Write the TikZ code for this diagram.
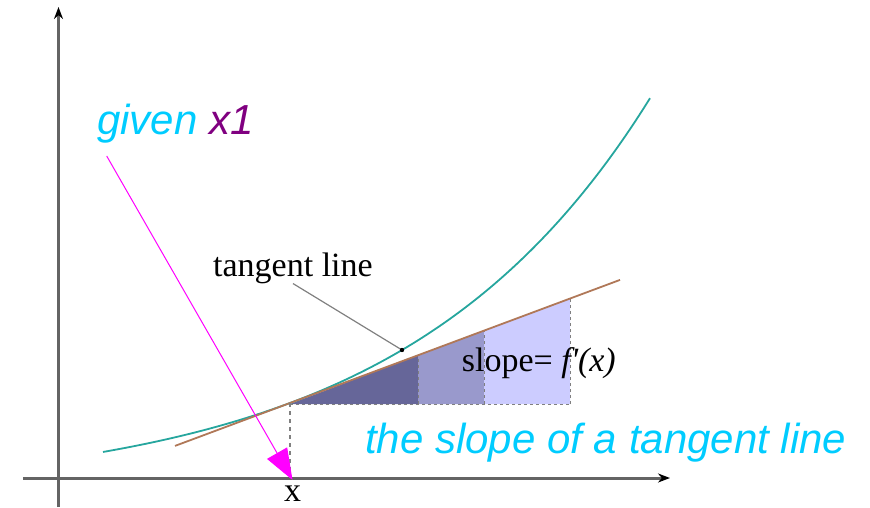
\documentclass[tikz,border=0pt]{standalone}
\usepackage{fontspec}
\setmainfont{Liberation Sans}
\newfontfamily\timesfont{Liberation Serif}
\usetikzlibrary{arrows.meta}

\definecolor{curveteal}{RGB}{38,166,158}
\definecolor{tanbrown}{RGB}{176,120,88}
\definecolor{givencyan}{RGB}{0,204,255}
\definecolor{xpurple}{RGB}{128,0,128}
\definecolor{arrowpink}{RGB}{255,0,255}
\definecolor{darkslope}{RGB}{102,102,153}
\definecolor{midslope}{RGB}{153,153,204}
\definecolor{lightslope}{RGB}{204,204,255}
\definecolor{axisgray}{RGB}{100,100,100}

\begin{document}
\begin{tikzpicture}[x=1pt, y=1pt,
	bigtext/.style={font=\fontsize{42}{48}\selectfont\itshape, text=givencyan, anchor=base west, inner sep=0pt},
	seriftext/.style={font=\fontsize{34}{38}\selectfont\timesfont, anchor=base west, inner sep=0pt},
	edge/.style={draw=gray, dash pattern=on 3pt off 3pt, line width=1pt}]
	\useasboundingbox (-58.5, -29) rectangle (811.5, 478);
	% \coordinate () at ();
	\coordinate (T) at (231.5, 75);
	\coordinate (touch) at (343.5, 128);
	\coordinate (xpoint) at (234, -2);
	\coordinate (arrowstart) at (48.2, 322);

	\fill[darkslope] (231.5, 74) -- (359.5, 122.7) -- (359.5, 74) -- cycle;
	\fill[midslope] (359.5, 74) -- (359.5, 122.7) -- (425.5, 147.4) -- (425.5, 74) -- cycle;
	\fill[lightslope] (425.5, 74) -- (425.5, 147.4) -- (511.5, 179.4) -- (511.5, 74) -- cycle;
	\draw[edge] (231.5, 74) -- (511.5, 74);
	\foreach \side/\top in {359.5/122.7, 425.5/147.4, 511.5/179.4} {
		\draw[edge] (\side, 74) -- (\side, \top);
	}

	\draw[axisgray, line width=3pt, -{Stealth[length=12pt, width=9pt, black]}] (-35.5, 0) -- (611.5, 0);
	\draw[axisgray, line width=2.5pt, -{Stealth[length=12pt, width=9pt, black]}] (0, -29) -- (0, 471);

	\draw[curveteal, line width=1.8pt] plot[domain=44.5:591.5, samples=90, smooth] (\x, {-17.06 + 92.06*exp(0.00406*(\x - 231.5))});
	\draw[tanbrown, line width=1.8pt] (116.5, 32.1) -- (561.5, 198.1);
	\draw[gray, line width=2.2pt, dash pattern=on 4pt off 4pt] (T) -- (T |- 0, 0);

	\node[bigtext] (given) at (38.5, 343) {given \textcolor{xpurple}{x1}};
	\node[bigtext] (slopetext) at (306.5, 25) {the slope of a tangent line};
	\node[seriftext] (tanlabel) at (154.5, 202) {tangent line};
	\node[seriftext] (slopelabel) at (403.2, 107) {slope= \textit{f'(x)}};
	\node[seriftext, anchor=base] (xlabel) at (234.2, -23) {x};

	\draw[gray, line width=1.2pt] (tanlabel.south) -- (touch);
	\fill (touch) circle (2.2pt);
	\draw[arrowpink, line width=1pt, -{Triangle[length=31pt, width=23pt]}] (arrowstart) -- (xpoint);
\end{tikzpicture}
\end{document}
